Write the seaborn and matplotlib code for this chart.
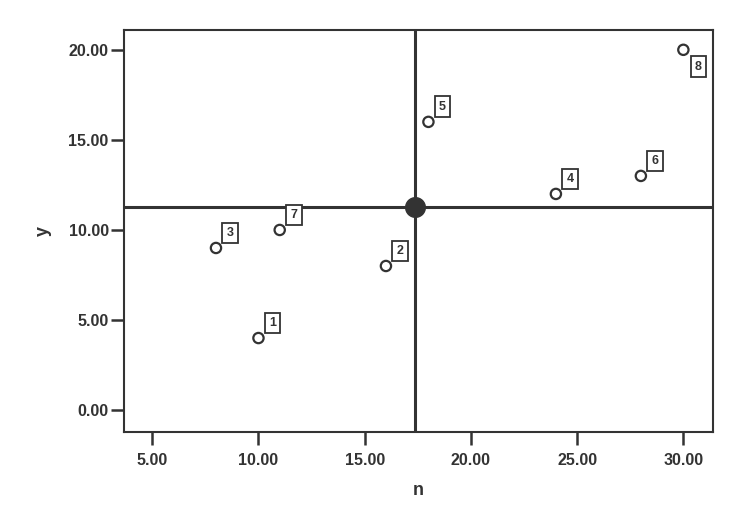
import numpy as np
import pandas as pd
import matplotlib
matplotlib.use("Agg")
import matplotlib.pyplot as plt
import seaborn as sns

# Dados
casos = ["1", "2", "3", "4", "5", "6", "7", "8"]
n_vals = [10, 16, 8, 24, 18, 28, 11, 30]
y_vals = [4, 8, 9, 12, 16, 13, 10, 20]

# Ponto de referência (cruzamento das linhas)
ref_n = 17.35
ref_y = 11.3

x_ticks = [5, 10, 15, 20, 25, 30]
y_ticks = [0, 5, 10, 15, 20]

cor = "#333333"

sns.set_theme(style="white")
plt.rcParams["font.family"] = ["Liberation Sans", "DejaVu Sans"]

df = pd.DataFrame({"n": n_vals, "y": y_vals, "caso": casos})

fig = plt.figure(figsize=(7.38, 5.05), dpi=100)
ax = fig.add_axes([0.168, 0.1451, 0.9657 - 0.168, 0.9406 - 0.1451])

# linhas de referência
ax.axvline(ref_n, color=cor, lw=2.2, zorder=1)
ax.axhline(ref_y, color=cor, lw=2.2, zorder=1)
ax.scatter([ref_n], [ref_y], s=200, color=cor, zorder=3)

sns.scatterplot(data=df, x="n", y="y", ax=ax, marker="o", s=55,
                facecolors="none", edgecolor=cor, linewidth=1.6, zorder=4)

# rótulos com caixa
for _, r in df.iterrows():
    dx, dy = (14, 15) if r["caso"] != "8" else (15, -17)
    ax.annotate(r["caso"], (r["n"], r["y"]), xytext=(dx, dy),
                textcoords="offset pixels", ha="center", va="center",
                fontsize=9, fontweight="bold", color=cor,
                bbox=dict(boxstyle="square,pad=0.35", fc="white", ec=cor, lw=1.3),
                zorder=5)

ax.set_xlim(3.67, 31.38)
ax.set_ylim(-1.2, 21.1)
ax.set_xticks(x_ticks)
ax.set_yticks(y_ticks)
ax.set_xticklabels([f"{v:.2f}" for v in x_ticks])
ax.set_yticklabels([f"{v:.2f}" for v in y_ticks])

for s in ax.spines.values():
    s.set_color(cor)
    s.set_linewidth(1.5)

ax.tick_params(axis="both", which="major", direction="out", length=9.5,
               width=1.8, color=cor, labelsize=11.5, labelcolor=cor,
               bottom=True, left=True)
ax.tick_params(axis="x", pad=6)
ax.tick_params(axis="y", pad=1.5)
for lab in ax.get_xticklabels() + ax.get_yticklabels():
    lab.set_fontweight("bold")

ax.set_xlabel("n", fontsize=13, fontweight="bold", color=cor, labelpad=10)
ax.set_ylabel("y", fontsize=13, fontweight="bold", color=cor, labelpad=12)

fig.savefig("out.png", dpi=100)
